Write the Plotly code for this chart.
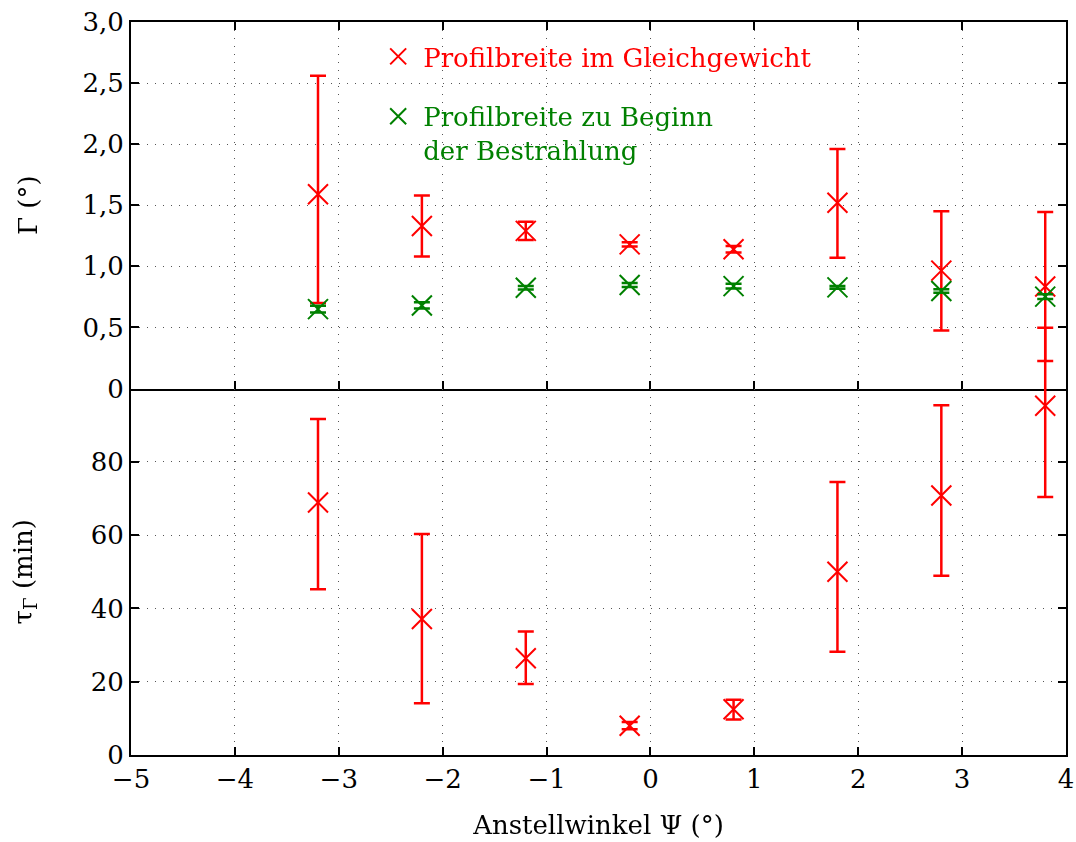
import plotly.graph_objects as go
from plotly.subplots import make_subplots

# Data
psi = [-3.2, -2.2, -1.2, -0.2, 0.8, 1.8, 2.8, 3.8]
gamma_eq = [1.59, 1.33, 1.29, 1.18, 1.14, 1.52, 0.965, 0.835]
gamma_eq_plus = [0.97, 0.25, 0.075, 0.018, 0.027, 0.44, 0.485, 0.61]
gamma_eq_minus = [0.89, 0.25, 0.075, 0.018, 0.027, 0.45, 0.49, 0.61]
gamma_start = [0.65, 0.68, 0.825, 0.847, 0.838, 0.828, 0.798, 0.752]
gamma_start_err = [0.027, 0.025, 0.015, 0.017, 0.019, 0.012, 0.015, 0.02]
tau = [68.9, 37.1, 26.4, 8.0, 12.5, 50.0, 70.8, 95.3]
tau_plus = [22.8, 23.2, 7.3, 1.0, 2.6, 24.5, 24.6, 21.3]
tau_minus = [23.7, 23.0, 7.0, 1.0, 2.8, 21.8, 21.9, 24.9]

x_ticks = [-5, -4, -3, -2, -1, 0, 1, 2, 3, 4]
x_ticktext = ["\u22125", "\u22124", "\u22123", "\u22122", "\u22121", "0", "1", "2", "3", "4"]
g_ticks = [0, 0.5, 1.0, 1.5, 2.0, 2.5, 3.0]
g_ticktext = ["0", "0,5", "1,0", "1,5", "2,0", "2,5", "3,0"]
t_ticks = [0, 20, 40, 60, 80]

RED = "#ff0000"
GREEN = "#008000"
FONT = "DejaVu Serif"
FS = 26

fig = make_subplots(rows=2, cols=1, shared_xaxes=True, vertical_spacing=0)

fig.add_trace(go.Scatter(
    x=psi, y=gamma_eq, mode="markers", legendgroup="eq",
    name='<span style="color:#ff0000">Profilbreite im Gleichgewicht</span>',
    marker=dict(symbol="x-thin", size=20, line=dict(color=RED, width=2), color=RED),
    error_y=dict(type="data", array=gamma_eq_plus, arrayminus=gamma_eq_minus,
                 color=RED, thickness=2.5, width=8),
), row=1, col=1)

fig.add_trace(go.Scatter(
    x=psi, y=gamma_start, mode="markers", legendgroup="start",
    name='<span style="color:#008000">Profilbreite zu Beginn<br>der Bestrahlung</span>',
    marker=dict(symbol="x-thin", size=20, line=dict(color=GREEN, width=2), color=GREEN),
    error_y=dict(type="data", array=gamma_start_err,
                 color=GREEN, thickness=2.5, width=8),
), row=1, col=1)

# tau on the lower panel's own axes (transparent; it anchors the lower subplot)
fig.add_trace(go.Scatter(
    x=psi, y=tau, mode="markers", showlegend=False, opacity=0, hoverinfo="skip",
    marker=dict(symbol="x-thin", size=20, line=dict(color=RED, width=2), color=RED),
), row=2, col=1)

# tau drawn on an invisible full-height axis pair that maps exactly onto the lower
# panel, so its error bar may extend past the lower panel's top as in the reference
fig.add_trace(go.Scatter(
    x=psi, y=tau, mode="markers", showlegend=False, xaxis="x3", yaxis="y3",
    marker=dict(symbol="x-thin", size=20, line=dict(color=RED, width=2), color=RED),
    error_y=dict(type="data", array=tau_plus, arrayminus=tau_minus,
                 color=RED, thickness=2.5, width=8),
))

axis_common = dict(
    visible=True, automargin=False,
    showline=True, linecolor="black", linewidth=2, mirror="ticks",
    ticks="inside", ticklen=8, tickwidth=1.5, tickcolor="black",
    showgrid=True, gridcolor="#555555", gridwidth=1, griddash="1px,7px",
    zeroline=False, tickfont=dict(family=FONT, size=FS, color="black"),
)

fig.update_xaxes(row=1, col=1, **axis_common, range=[-5, 4], tickvals=x_ticks, ticktext=x_ticktext,
                 showticklabels=False)
fig.update_xaxes(row=2, col=1, **axis_common, range=[-5, 4], tickvals=x_ticks, ticktext=x_ticktext,
                 showticklabels=True,
                 title=dict(text="Anstellwinkel \u03a8 (\u00b0)", font=dict(family=FONT, size=FS, color="black"),
                            standoff=23))
fig.update_xaxes(row=2, col=1, mirror=False)
fig.update_yaxes(row=1, col=1, **axis_common, range=[0, 3], tickvals=g_ticks, ticktext=g_ticktext,
                 title=dict(text="\u0393 (\u00b0)", font=dict(family=FONT, size=FS, color="black"), standoff=37))
fig.update_yaxes(row=2, col=1, **axis_common, range=[0, 100], tickvals=t_ticks,
                 title=dict(text="\u03c4<sub>\u0393</sub> (min)", font=dict(family=FONT, size=FS, color="black"), standoff=51))

fig.update_layout(
    xaxis3=dict(domain=[0, 1], range=[-5, 4], visible=False, anchor="y3", showgrid=False),
    yaxis3=dict(domain=[0, 1], range=[0, 200], visible=False, anchor="x3", showgrid=False),
    width=1076, height=842,
    margin=dict(l=131, r=10, t=22, b=87, autoexpand=False),
    plot_bgcolor="rgba(0,0,0,0)", paper_bgcolor="white",
    font=dict(family=FONT, size=FS, color="black"),
    legend=dict(x=0.259, y=0.985, xanchor="left", yanchor="top", valign="top",
                bgcolor="rgba(0,0,0,0)", font=dict(family=FONT, size=FS),
                itemwidth=40, tracegroupgap=23, traceorder="grouped"),
)

fig.write_html("out.html")
